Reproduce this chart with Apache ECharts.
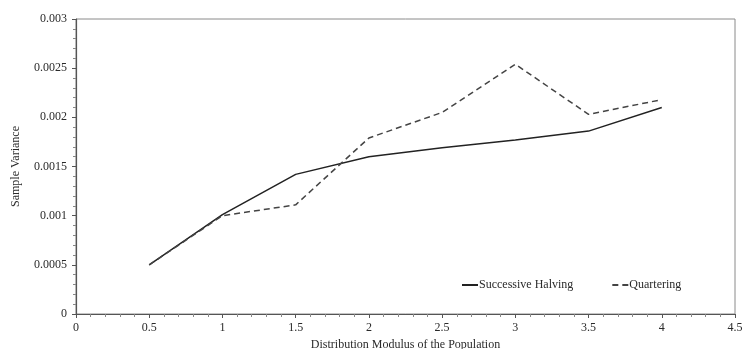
<!DOCTYPE html>
<html>
<head>
<meta charset="utf-8">
<script src="https://cdn.jsdelivr.net/npm/echarts@6/dist/echarts.min.js"></script>
<style>
  html, body { margin: 0; padding: 0; background: #fff; }
  #chart { width: 743px; height: 349px; }
</style>
</head>
<body>
<div id="chart"></div>
<script>
// Distribution modulus values on the horizontal axis
const modulus = [0.5, 1, 1.5, 2, 2.5, 3, 3.5, 4];
// Sample variance for each sampling method
const successiveHalving = [0.0005, 0.00101, 0.00142, 0.0016, 0.00169, 0.00177, 0.00186, 0.0021];
const quartering = [0.0005, 0.001, 0.00111, 0.00179, 0.00205, 0.00254, 0.00203, 0.00218];
// Tick labels
const xTickValues = [0, 0.5, 1, 1.5, 2, 2.5, 3, 3.5, 4, 4.5];
const xTickLabels = ['0', '0.5', '1', '1.5', '2', '2.5', '3', '3.5', '4', '4.5'];
const yTickValues = [0, 0.0005, 0.001, 0.0015, 0.002, 0.0025, 0.003];
const yTickLabels = ['0', '0.0005', '0.001', '0.0015', '0.002', '0.0025', '0.003'];

const FONT = '"Liberation Serif", "DejaVu Serif", serif';
const INK = '#2a2a2a';
const AXIS = '#555';

function lookup(values, labels) {
  return function (v) {
    for (let i = 0; i < values.length; i++) {
      if (Math.abs(values[i] - v) < 1e-9) return labels[i];
    }
    return '';
  };
}

const pairs = (xs, ys) => xs.map((x, i) => [x, ys[i]]);

const chart = echarts.init(document.getElementById('chart'), null, { renderer: 'canvas' });
chart.setOption({
  animation: false,
  backgroundColor: '#fff',
  grid: {
    left: 76, right: 8, top: 19, bottom: 35,
    outerBoundsMode: 'none',
    containLabel: false,
    show: true, borderColor: '#8a8a8a', borderWidth: 1, backgroundColor: 'transparent'
  },
  legend: {
    show: true,
    left: 456, top: 274,
    itemWidth: 16, itemHeight: 10, itemGap: 38,
    // line-only keys: hide the marker the line series would add
    itemStyle: { opacity: 0 },
    textStyle: { fontFamily: FONT, fontSize: 12, color: INK, padding: [0, 0, 0, -4] },
    data: ['Successive Halving', 'Quartering']
  },
  xAxis: {
    type: 'value', min: 0, max: 4.5, interval: 0.5,
    name: 'Distribution Modulus of the Population',
    nameLocation: 'middle', nameGap: 25,
    nameTextStyle: { fontFamily: FONT, fontSize: 12, color: INK },
    axisLine: { show: true, onZero: false, lineStyle: { color: AXIS, width: 1.2 } },
    axisTick: { show: true, inside: false, length: 4, lineStyle: { color: AXIS } },
    minorTick: { show: true, splitNumber: 5, length: 3, lineStyle: { color: '#888' } },
    splitLine: { show: false },
    axisLabel: {
      margin: 8, fontFamily: FONT, fontSize: 12, color: INK,
      formatter: lookup(xTickValues, xTickLabels)
    }
  },
  yAxis: {
    type: 'value', min: 0, max: 0.003, interval: 0.0005,
    name: 'Sample Variance',
    nameLocation: 'middle', nameGap: 54, nameRotate: 90,
    nameTextStyle: { fontFamily: FONT, fontSize: 12, color: INK },
    axisLine: { show: true, lineStyle: { color: AXIS, width: 1.2 } },
    axisTick: { show: true, inside: false, length: 4, lineStyle: { color: AXIS } },
    minorTick: { show: true, splitNumber: 5, length: 3, lineStyle: { color: '#888' } },
    splitLine: { show: false },
    axisLabel: {
      margin: 9, fontFamily: FONT, fontSize: 12, color: INK,
      formatter: lookup(yTickValues, yTickLabels)
    }
  },
  series: [
    {
      name: 'Successive Halving', type: 'line',
      data: pairs(modulus, successiveHalving),
      symbol: 'none',
      lineStyle: { color: '#222', width: 1.5, type: 'solid' },
      itemStyle: { color: '#222' }
    },
    {
      name: 'Quartering', type: 'line',
      data: pairs(modulus, quartering),
      symbol: 'none',
      lineStyle: { color: '#444', width: 1.5, type: [6, 4] },
      itemStyle: { color: '#444' }
    }
  ]
});
</script>
</body>
</html>
